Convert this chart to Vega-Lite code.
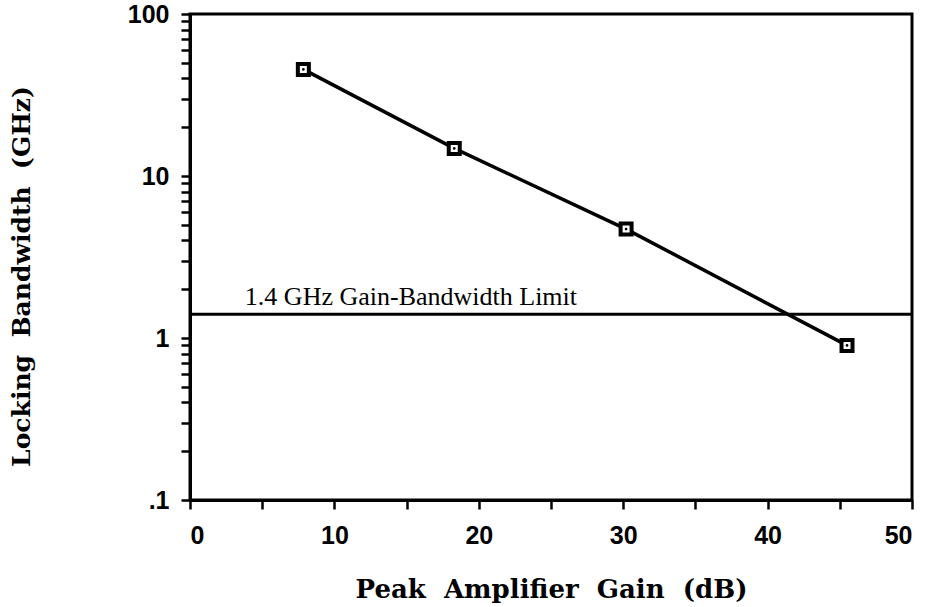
{
  "$schema": "https://vega.github.io/schema/vega-lite/v6.json",
  "width": 722,
  "height": 486,
  "autosize": {"type": "none"},
  "padding": {"left": 190, "top": 14, "right": 22, "bottom": 107},
  "background": "white",
  "config": {
    "view": {"stroke": "black", "strokeWidth": 3},
    "axis": {
      "grid": false,
      "domainColor": "black",
      "domainWidth": 3,
      "tickColor": "black",
      "tickWidth": 2.5,
      "tickSize": 9,
      "labelFont": "Liberation Sans",
      "labelFontSize": 25,
      "labelFontWeight": "bold",
      "labelColor": "black",
      "titleFont": "DejaVu Serif",
      "titleFontWeight": "bold",
      "titleFontSize": 26,
      "titleColor": "black"
    }
  },
  "datasets": {
    "pts": [
      {"gain": 7.85, "bw": 45.5},
      {"gain": 18.3, "bw": 14.8},
      {"gain": 30.2, "bw": 4.7},
      {"gain": 45.5, "bw": 0.9}
    ],
    "limit": [{"bw": 1.4, "gain": 3.8, "label_bw": 1.6, "label": "1.4 GHz Gain-Bandwidth Limit"}]
  },
  "layer": [
    {
      "data": {"name": "limit"},
      "mark": {"type": "rule", "color": "black", "strokeWidth": 3},
      "encoding": {
        "y": {"field": "bw", "type": "quantitative", "scale": {"type": "log", "domain": [0.1, 100], "nice": false}}
      }
    },
    {
      "data": {"name": "limit"},
      "mark": {"type": "text", "font": "Liberation Serif", "fontSize": 26, "align": "left", "baseline": "alphabetic", "color": "black"},
      "encoding": {
        "x": {"field": "gain", "type": "quantitative"},
        "y": {"field": "label_bw", "type": "quantitative"},
        "text": {"field": "label"}
      }
    },
    {
      "data": {"name": "pts"},
      "mark": {"type": "line", "color": "black", "strokeWidth": 3.5},
      "encoding": {
        "x": {
          "field": "gain", "type": "quantitative",
          "scale": {"domain": [0, 50], "nice": false},
          "axis": {
            "title": "Peak\u00a0 Amplifier\u00a0 Gain\u00a0 (dB)",
            "values": [0, 5, 10, 15, 20, 25, 30, 35, 40, 45, 50],
            "labelExpr": "datum.value % 10 == 0 ? datum.label : ''",
            "labelPadding": 14,
            "titleBaseline": "alphabetic",
            "titleY": 97
          }
        },
        "y": {
          "field": "bw", "type": "quantitative",
          "scale": {"type": "log", "domain": [0.1, 100], "nice": false},
          "axis": {
            "title": "Locking\u00a0 Bandwidth\u00a0 (GHz)",
            "titleFontSize": 25,
            "values": [0.1, 0.2, 0.3, 0.4, 0.5, 0.6, 0.7, 0.8, 0.9, 1, 2, 3, 4, 5, 6, 7, 8, 9, 10, 20, 30, 40, 50, 60, 70, 80, 90, 100],
            "labelExpr": "datum.value == 0.1 ? '.1' : datum.value == 1 ? '1' : datum.value == 10 ? '10' : datum.value == 100 ? '100' : ''",
            "labelPadding": 12,
            "titleX": -156,
            "titleY": 262
          }
        }
      }
    },
    {
      "data": {"name": "pts"},
      "mark": {"type": "point", "shape": "square", "size": 121, "filled": true, "fill": "white", "stroke": "black", "strokeWidth": 4, "opacity": 1},
      "encoding": {
        "x": {"field": "gain", "type": "quantitative"},
        "y": {"field": "bw", "type": "quantitative"}
      }
    },
    {
      "data": {"name": "pts"},
      "mark": {"type": "point", "shape": "circle", "size": 7, "filled": true, "color": "black", "opacity": 1},
      "encoding": {
        "x": {"field": "gain", "type": "quantitative"},
        "y": {"field": "bw", "type": "quantitative"}
      }
    }
  ]
}
